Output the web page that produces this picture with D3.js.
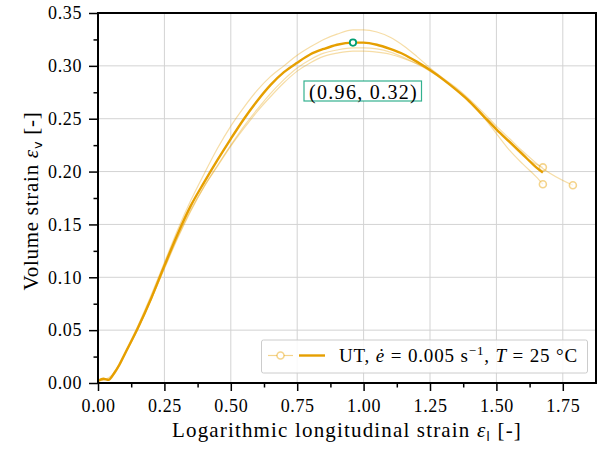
<!DOCTYPE html>
<html>
<head>
<meta charset="utf-8">
<script src="https://cdn.jsdelivr.net/npm/d3@7"></script>
<style>
  body { margin: 0; background: #fff; }
  svg text { font-family: 'Liberation Serif', serif; }
</style>
</head>
<body>
<script>
// strain values
const strainX = [0, 0.02, 0.04, 0.06, 0.08, 0.1, 0.15, 0.2, 0.25, 0.3, 0.35, 0.4, 0.45, 0.5, 0.55, 0.6, 0.65, 0.7, 0.75, 0.8, 0.85, 0.9, 0.96, 1.0, 1.05, 1.1, 1.15, 1.2, 1.25, 1.3, 1.35, 1.4, 1.45, 1.5, 1.55, 1.6, 1.65, 1.675];
const meanY = [0.002, 0.004, 0.003, 0.009, 0.017, 0.027, 0.052, 0.080, 0.111, 0.141, 0.168, 0.190, 0.211, 0.231, 0.250, 0.267, 0.282, 0.294, 0.303, 0.311, 0.316, 0.320, 0.322, 0.322, 0.320, 0.316, 0.311, 0.304, 0.296, 0.287, 0.277, 0.266, 0.253, 0.240, 0.228, 0.216, 0.204, 0.199];
const runAY = [0.002, 0.004, 0.003, 0.010, 0.018, 0.028, 0.054, 0.083, 0.114, 0.145, 0.173, 0.198, 0.222, 0.243, 0.261, 0.277, 0.290, 0.300, 0.310, 0.318, 0.325, 0.330, 0.334, 0.334, 0.332, 0.327, 0.319, 0.309, 0.298, 0.288, 0.277, 0.265, 0.252, 0.239, 0.227, 0.215, 0.207, 0.204];
const runBY = [0.002, 0.003, 0.004, 0.008, 0.016, 0.026, 0.051, 0.079, 0.108, 0.137, 0.163, 0.186, 0.206, 0.225, 0.243, 0.259, 0.274, 0.287, 0.298, 0.306, 0.312, 0.315, 0.317, 0.317, 0.316, 0.313, 0.308, 0.302, 0.295, 0.287, 0.278, 0.267, 0.252, 0.236, 0.220, 0.207, 0.195, 0.188];
const runCX = strainX.concat([1.788]);
const runCY = [0.002, 0.003, 0.005, 0.009, 0.017, 0.027, 0.051, 0.079, 0.109, 0.138, 0.164, 0.186, 0.205, 0.224, 0.241, 0.257, 0.271, 0.284, 0.295, 0.303, 0.309, 0.312, 0.314, 0.314, 0.313, 0.311, 0.307, 0.302, 0.296, 0.288, 0.279, 0.268, 0.256, 0.243, 0.231, 0.219, 0.208, 0.203, 0.187];
const peak = [0.96, 0.322];
const peakLabel = '(0.96, 0.32)';
const xTicks = [0, 0.25, 0.5, 0.75, 1.0, 1.25, 1.5, 1.75];
const yTicks = [0, 0.05, 0.1, 0.15, 0.2, 0.25, 0.3, 0.35];

const W = 598, H = 449;
const margin = {left: 97, right: 2, top: 13, bottom: 66};
const orange = '#E69F00';
const teal = '#009E73';
const serif = "'Liberation Serif', serif";

const svg = d3.select('body').append('svg')
    .attr('width', W)
    .attr('height', H);

const x = d3.scaleLinear().domain([0, 1.875]).range([margin.left + 1, W - margin.right]);
const y = d3.scaleLinear().domain([0, 0.35]).range([H - margin.bottom, margin.top]);

// stretch a text to the width the LaTeX font takes in the reference
function fitWidth(sel, target) {
    const node = sel.node();
    const len = node.getComputedTextLength();
    const n = node.textContent.length;
    sel.attr('letter-spacing', (target - len) / n);
}

// grid
svg.append('g')
    .selectAll('line')
    .data(xTicks)
    .enter().append('line')
    .attr('x1', d => x(d)).attr('x2', d => x(d))
    .attr('y1', y(0)).attr('y2', y(0.35))
    .attr('stroke', '#d3d3d3').attr('stroke-width', 1);
svg.append('g')
    .selectAll('line')
    .data(yTicks)
    .enter().append('line')
    .attr('x1', x(0)).attr('x2', x(1.875))
    .attr('y1', d => y(d)).attr('y2', d => y(d))
    .attr('stroke', '#d3d3d3').attr('stroke-width', 1);

svg.append('clipPath').attr('id', 'clip')
    .append('rect')
    .attr('x', x(0)).attr('y', y(0.35))
    .attr('width', x(1.875) - x(0)).attr('height', y(0) - y(0.35));

const line = d3.line()
    .x(d => x(d[0]))
    .y(d => y(d[1]))
    .curve(d3.curveMonotoneX);
const plot = svg.append('g').attr('clip-path', 'url(#clip)');

const runs = [
    d3.zip(strainX, runAY),
    d3.zip(strainX, runBY),
    d3.zip(runCX, runCY)
];

// individual tests, faint
runs.forEach(r => {
    plot.append('path')
        .datum(r)
        .attr('fill', 'none')
        .attr('stroke', orange)
        .attr('stroke-opacity', 0.35)
        .attr('stroke-width', 1.2)
        .attr('d', line);
    plot.append('circle')
        .attr('cx', x(r[r.length - 1][0]))
        .attr('cy', y(r[r.length - 1][1]))
        .attr('r', 3.5)
        .attr('fill', '#fff')
        .attr('fill-opacity', 0.6)
        .attr('stroke', orange)
        .attr('stroke-opacity', 0.45)
        .attr('stroke-width', 1.6);
});

// mean curve
plot.append('path')
    .datum(d3.zip(strainX, meanY))
    .attr('fill', 'none')
    .attr('stroke', orange)
    .attr('stroke-width', 2.4)
    .attr('stroke-linejoin', 'round')
    .attr('d', line);

// peak marker
plot.append('circle')
    .attr('cx', x(peak[0])).attr('cy', y(peak[1]))
    .attr('r', 3.2)
    .attr('fill', '#fff')
    .attr('stroke', teal)
    .attr('stroke-width', 1.8);

// annotation box
const ann = svg.append('g');
ann.append('rect')
    .attr('x', 304).attr('y', 81)
    .attr('width', 117.5).attr('height', 20)
    .attr('fill', '#fff')
    .attr('stroke', teal)
    .attr('stroke-opacity', 0.8)
    .attr('stroke-width', 1.2);
const annText = ann.append('text')
    .attr('x', 309).attr('y', 99)
    .style('font-family', serif)
    .attr('font-size', '20px')
    .text(peakLabel);
fitWidth(annText, 109);

// axes
const xAxis = svg.append('g')
    .attr('transform', `translate(0,${y(0)})`)
    .call(d3.axisBottom(x).tickValues(xTicks).tickFormat(d3.format('.2f')).tickSize(8).tickPadding(8));
const xMinor = svg.append('g')
    .attr('transform', `translate(0,${y(0)})`)
    .call(d3.axisBottom(x).tickValues(d3.range(0.125, 1.875, 0.25)).tickFormat('').tickSize(4.5));
const yAxis = svg.append('g')
    .attr('transform', `translate(${x(0)},0)`)
    .call(d3.axisLeft(y).tickValues(yTicks).tickFormat(d3.format('.2f')).tickSize(9).tickPadding(7));
const yMinor = svg.append('g')
    .attr('transform', `translate(${x(0)},0)`)
    .call(d3.axisLeft(y).tickValues(d3.range(0.025, 0.35, 0.05)).tickFormat('').tickSize(4.5));

[xAxis, xMinor, yAxis, yMinor].forEach(g => {
    g.attr('font-family', null);
    g.select('.domain').remove();
    g.selectAll('line').attr('stroke', '#000').attr('stroke-width', 1.5);
    g.selectAll('text')
        .style('font-family', serif)
        .attr('font-size', '18px')
        .attr('fill', '#000')
        .each(function() { fitWidth(d3.select(this), 34); });
});

// frame
svg.append('rect')
    .attr('x', x(0)).attr('y', y(0.35))
    .attr('width', x(1.875) - x(0)).attr('height', y(0) - y(0.35))
    .attr('fill', 'none')
    .attr('stroke', '#000')
    .attr('stroke-width', 2);

// axis labels
const xl = svg.append('text')
    .attr('x', (x(0) + x(1.875)) / 2)
    .attr('y', 437)
    .attr('text-anchor', 'middle')
    .style('font-family', serif)
    .attr('font-size', '21px');
xl.append('tspan').text('Logarithmic longitudinal strain ');
xl.append('tspan').attr('font-style', 'italic').text('ε');
xl.append('tspan').attr('font-size', '13px').attr('dy', 4).style('font-family', "'DejaVu Sans', sans-serif").text('l');
xl.append('tspan').attr('dy', -4).text(' [-]');
fitWidth(xl, 350);

const yl = svg.append('text')
    .attr('transform', `translate(38,${(y(0) + y(0.35)) / 2 + 3}) rotate(-90)`)
    .attr('text-anchor', 'middle')
    .style('font-family', serif)
    .attr('font-size', '21px');
yl.append('tspan').text('Volume strain ');
yl.append('tspan').attr('font-style', 'italic').text('ε');
yl.append('tspan').attr('font-size', '13px').attr('dy', 4).style('font-family', "'DejaVu Sans', sans-serif").text('v');
yl.append('tspan').attr('dy', -4).text(' [-]');
fitWidth(yl, 179);

// legend
const lg = svg.append('g');
lg.append('rect')
    .attr('x', 261.5).attr('y', 340)
    .attr('width', 326).attr('height', 33)
    .attr('rx', 2)
    .attr('fill', '#fff').attr('fill-opacity', 0.85)
    .attr('stroke', '#cccccc').attr('stroke-width', 1);
lg.append('line')
    .attr('x1', 268).attr('x2', 293).attr('y1', 355.5).attr('y2', 355.5)
    .attr('stroke', orange).attr('stroke-opacity', 0.45).attr('stroke-width', 1.2);
lg.append('circle')
    .attr('cx', 280.5).attr('cy', 355.5).attr('r', 3.5)
    .attr('fill', '#fff').attr('stroke', orange).attr('stroke-opacity', 0.45).attr('stroke-width', 1.6);
lg.append('line')
    .attr('x1', 299).attr('x2', 325).attr('y1', 355.5).attr('y2', 355.5)
    .attr('stroke', orange).attr('stroke-width', 2.4);
const lt = lg.append('text')
    .attr('x', 339).attr('y', 362)
    .style('font-family', serif)
    .attr('font-size', '19px');
lt.append('tspan').text('UT, ');
lt.append('tspan').attr('font-style', 'italic').text('ė');
lt.append('tspan').text(' = 0.005 s');
lt.append('tspan').attr('font-size', '13px').attr('dy', -7).text('−1');
lt.append('tspan').attr('dy', 7).text(', ');
lt.append('tspan').attr('font-style', 'italic').text('T');
lt.append('tspan').text(' = 25 °C');
fitWidth(lt, 239);
</script>
</body>
</html>
